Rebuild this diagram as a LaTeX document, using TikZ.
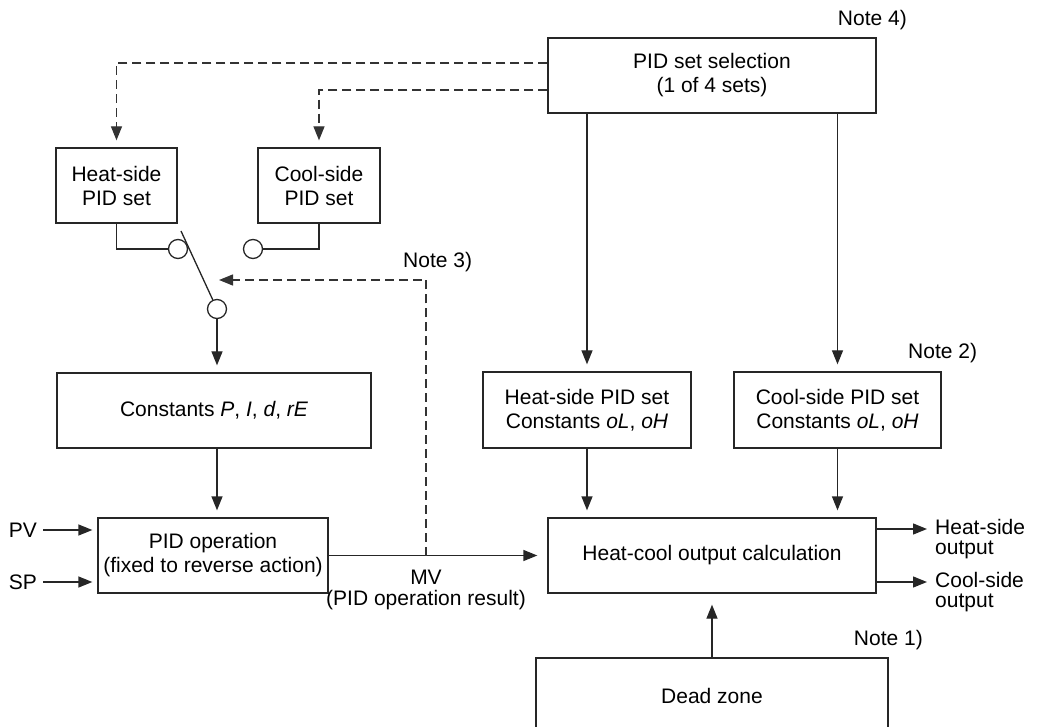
\documentclass[tikz,border=0pt]{standalone}
\usepackage{fontspec}
\setmainfont{Liberation Sans}
\usetikzlibrary{arrows.meta,calc}
\newcommand\sevseg[1]{{\itshape #1}}
\begin{document}
\begin{tikzpicture}[x=1pt,y=-1pt,
  font=\fontsize{21}{24}\selectfont,
  box/.style={draw=black!85, line width=1.3pt, align=center, inner sep=0pt},
  arr/.style={draw=black!85, line width=1.3pt, -{Triangle[length=14pt,width=11pt]}, shorten >=7pt},
  arrz/.style={draw=black!85, line width=1.3pt, -{Triangle[length=14pt,width=11pt]}},
  dsh/.style={draw=black!80, dash pattern=on 9pt off 5pt},
  conn/.style={draw=black!85, line width=1.3pt},
  sw/.style={circle, draw=black!85, line width=1.3pt, minimum size=19pt, inner sep=0pt},
  lbl/.style={inner sep=0pt}
]
\useasboundingbox (0,0) rectangle (1039,727);
\clip (0,0) rectangle (1039,727);

% boxes
\node[box, minimum width=328pt, minimum height=75pt] (sel) at (712,75.5) {PID set selection\\(1 of 4 sets)};
\node[box, minimum width=121pt, minimum height=75pt] (heat) at (116.5,185.5) {Heat-side\\PID set};
\node[box, minimum width=122pt, minimum height=75pt] (cool) at (319,185.5) {Cool-side\\PID set};
\node[sw] (c1) at (178,249) {};
\node[sw] (c2) at (253,249) {};
\node[sw] (c3) at (217,309) {};
\coordinate (swtop) at (181,231);
\node[box, minimum width=314pt, minimum height=75pt] (pidc) at (214,410.5) {Constants \sevseg{P}, \sevseg{I}, \sevseg{d}, \sevseg{rE}};
\node[box, minimum width=230pt, minimum height=75pt] (pidop) at (213,555.5) {PID operation\\(fixed to reverse action)};
\node[box, minimum width=208pt, minimum height=76pt] (hconst) at (587,410) {Heat-side PID set\\Constants \sevseg{oL}, \sevseg{oH}};
\node[box, minimum width=207pt, minimum height=76pt] (cconst) at (837.5,410) {Cool-side PID set\\Constants \sevseg{oL}, \sevseg{oH}};
\node[box, minimum width=328pt, minimum height=75pt] (hc) at (712,555.5) {Heat-cool output calculation};
\node[box, minimum width=352pt, minimum height=75pt] (dead) at (712,695.5) {Dead zone};

% labels
\node[lbl, anchor=east] (n4) at (907,20) {Note 4)};
\node[lbl, anchor=west] (n3) at (403,262) {Note 3)};
\node[lbl, anchor=west] (n2) at (908,353) {Note 2)};
\node[lbl, anchor=east] (n1) at (923,640) {Note 1)};
\node[lbl, anchor=east] (pv) at (37,530) {PV};
\node[lbl, anchor=east] (sp) at (37,582) {SP};
\node[lbl, align=center, font=\fontsize{21}{21}\selectfont] (mv) at (426,590) {MV\\(PID operation result)};
\node[lbl, anchor=west, align=left, font=\fontsize{21}{20}\selectfont] (ho) at (935,539) {Heat-side\\output};
\node[lbl, anchor=west, align=left, font=\fontsize{21}{20}\selectfont] (co) at (935,592) {Cool-side\\output};
\coordinate (hot) at (927,529);
\coordinate (cot) at (927,582);
\coordinate (mvj) at (426,555.5);
\coordinate (n3tip) at (219,280);

% connectors
\draw[arr, dsh] ($(sel.west)+(0,-12.5)$) -| (heat.north);
\draw[arr, dsh] ($(sel.west)+(0,14.5)$) -| (cool.north);
\draw[conn] (heat.south) |- (c1.west);
\draw[conn] (cool.south) |- (c2.east);
\draw[conn] (swtop) -- (c3);
\draw[arr] (c3.south) -- (c3.south |- pidc.north);
\draw[arr] (pidc.south -| c3) -- (pidop.north -| c3);
\draw[arr] (sel.south -| hconst) -- (hconst.north);
\draw[arr] (sel.south -| cconst) -- (cconst.north);
\draw[arr] (hconst.south) -- (hc.north -| hconst);
\draw[arr] (cconst.south) -- (hc.north -| cconst);
\draw[arr, shorten >=5pt] ($(pv.east)+(6,0)$) -- (pidop.west |- pv);
\draw[arr, shorten >=5pt] ($(sp.east)+(6,0)$) -- (pidop.west |- sp);
\draw[arr, shorten >=10pt] (pidop.east) -- (hc.west);
\draw[arrz, dsh] (mvj) |- (n3tip);
\draw[arr, shorten >=11pt] (dead.north) -- (hc.south);
\draw[arrz] (hc.east |- hot) -- (hot);
\draw[arrz] (hc.east |- cot) -- (cot);
\end{tikzpicture}
\end{document}
